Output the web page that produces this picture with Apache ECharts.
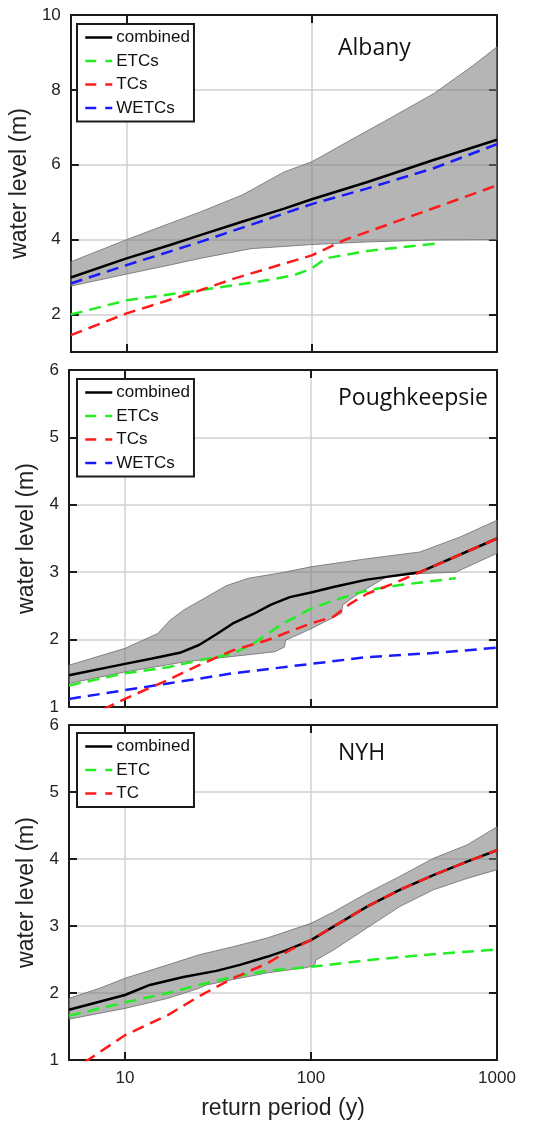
<!DOCTYPE html>
<html>
<head>
<meta charset="utf-8">
<script src="https://cdn.jsdelivr.net/npm/echarts@6/dist/echarts.min.js"></script>
<style>
html,body{margin:0;padding:0;background:#fff;}
#c{width:547px;height:1122px;}
</style>
</head>
<body>
<div id="c"></div>
<script>
// ---------- DATA ----------
const panelTitles = ['Albany', 'Poughkeepsie', 'NYH'];
const xTickValues = [10, 100, 1000];
const yTicksAlbany = [2, 4, 6, 8, 10];
const yTicksLower = [1, 2, 3, 4, 5, 6];

// Albany
const albCombX = [5, 10, 17, 25, 42, 71, 100, 200, 450, 1000];
const albCombY = [2.99, 3.50, 3.85, 4.12, 4.48, 4.83, 5.08, 5.54, 6.12, 6.67];
const albEtcX = [5, 10, 25, 58, 80, 100, 119, 200, 500];
const albEtcY = [2.0, 2.38, 2.65, 2.92, 3.05, 3.23, 3.50, 3.70, 3.91];
const albTcX = [5, 10, 25, 38, 100, 150, 300, 1000];
const albTcY = [1.45, 2.03, 2.65, 2.96, 3.58, 3.99, 4.52, 5.45];
const albWetcX = [5, 10, 25, 100, 200, 450, 1000];
const albWetcY = [2.83, 3.32, 3.94, 4.95, 5.37, 5.90, 6.55];
const albUpX = [5, 10, 17, 25, 42, 71, 100, 162, 245, 455, 747, 1000];
const albUpY = [3.41, 4.0, 4.43, 4.74, 5.19, 5.81, 6.08, 6.66, 7.15, 7.90, 8.66, 9.15];
const albLoX = [5, 10, 17, 25, 47, 100, 200, 450, 1000];
const albLoY = [2.76, 3.08, 3.32, 3.50, 3.76, 3.87, 3.94, 3.99, 4.0];

// Poughkeepsie
const pouCombX = [5, 10, 14, 20, 25, 31, 38, 49, 61, 77, 100, 132, 200, 385, 1000];
const pouCombY = [1.47, 1.64, 1.72, 1.81, 1.92, 2.08, 2.24, 2.38, 2.52, 2.63, 2.70, 2.78, 2.89, 3.0, 3.5];
const pouEtcX = [5, 10, 17, 25, 38, 49, 55, 71, 100, 132, 200, 300, 600];
const pouEtcY = [1.32, 1.50, 1.59, 1.69, 1.79, 1.94, 2.04, 2.24, 2.46, 2.58, 2.73, 2.81, 2.91];
const pouTcX = [5, 10, 14, 17, 25, 38, 58, 100, 132, 162, 200, 277, 385, 1000];
const pouTcY = [0.72, 1.12, 1.30, 1.40, 1.62, 1.84, 1.99, 2.24, 2.34, 2.53, 2.68, 2.83, 3.0, 3.5];
const pouWetcX = [5, 10, 17, 25, 38, 100, 200, 450, 1000];
const pouWetcY = [1.12, 1.25, 1.35, 1.42, 1.50, 1.64, 1.74, 1.80, 1.88];
const pouUpX = [5, 10, 15, 17.5, 21, 26.6, 35, 46, 69, 100, 200, 385, 630, 1000];
const pouUpY = [1.62, 1.87, 2.09, 2.29, 2.45, 2.61, 2.80, 2.91, 2.99, 3.08, 3.20, 3.30, 3.52, 3.77];
const pouLoX = [5, 10, 21, 38, 64, 72, 73, 100, 146, 148, 169, 200, 255, 385, 600, 1000];
const pouLoY = [1.35, 1.52, 1.67, 1.75, 1.82, 1.89, 1.99, 2.16, 2.39, 2.51, 2.63, 2.76, 2.93, 2.98, 3.0, 3.28];

// NYH
const nyhCombX = [5, 10, 13.6, 20.6, 31, 41.5, 58, 74, 100, 132, 200, 300, 455, 690, 1000];
const nyhCombY = [1.75, 1.97, 2.12, 2.24, 2.33, 2.42, 2.54, 2.64, 2.79, 2.99, 3.29, 3.54, 3.76, 3.96, 4.13];
const nyhEtcX = [5, 10, 17, 25, 38, 58, 100, 200, 455, 1000];
const nyhEtcY = [1.66, 1.86, 2.0, 2.12, 2.24, 2.33, 2.39, 2.49, 2.58, 2.65];
const nyhTcX = [5, 10, 17, 25, 38, 58, 77, 100, 132, 200, 300, 455, 690, 1000];
const nyhTcY = [0.81, 1.37, 1.67, 1.95, 2.22, 2.44, 2.64, 2.79, 2.99, 3.29, 3.54, 3.76, 3.96, 4.13];
const nyhUpX = [5, 7.3, 10, 17, 25, 38, 58, 100, 132, 200, 300, 455, 690, 1000];
const nyhUpY = [1.92, 2.07, 2.22, 2.42, 2.57, 2.69, 2.82, 3.04, 3.21, 3.49, 3.74, 4.01, 4.21, 4.48];
const nyhLoX = [5, 10, 17, 25, 27.5, 38, 58, 95, 105, 106, 132, 200, 300, 455, 690, 1000];
const nyhLoY = [1.61, 1.77, 1.92, 2.07, 2.12, 2.20, 2.30, 2.38, 2.42, 2.49, 2.64, 2.97, 3.29, 3.54, 3.71, 3.84];

// ---------- CHART ----------
const FONT = '"Liberation Sans", Arial, sans-serif';
const pairs = (xs, ys) => xs.map((x, i) => [x, ys[i]]);

const gridPos = [
  {left: 69, top: 15, width: 428, height: 337},
  {left: 69, top: 370, width: 428, height: 337},
  {left: 69, top: 725, width: 428, height: 335}
];
const yRange = [[1, 10], [1, 6], [1, 6]];
const yTicks = [yTicksAlbany, yTicksLower, yTicksLower];

const AX = '#1a1a1a';
const GRIDC = '#d0d0d0';

const xAxes = [], yAxes = [];
gridPos.forEach((g, i) => {
  xAxes.push({
    type: 'log', logBase: 10, min: 5, max: 1000, gridIndex: i, position: 'bottom',
    axisLine: {show: true, onZero: false, lineStyle: {color: AX, width: 2}},
    axisTick: {show: true, inside: true, length: 8, lineStyle: {color: AX, width: 2}, customValues: xTickValues},
    axisLabel: {show: i === 2, customValues: xTickValues, formatter: v => String(v),
      fontSize: 17, fontFamily: FONT, color: '#222', margin: 10},
    splitLine: {show: true, lineStyle: {color: GRIDC, width: 1.5}},
    name: i === 2 ? 'return period (y)' : '', nameLocation: 'middle', nameGap: 37,
    nameTextStyle: {fontSize: 23, fontFamily: FONT, color: '#222'}
  });
  xAxes.push({
    type: 'log', logBase: 10, min: 5, max: 1000, gridIndex: i, position: 'top',
    axisLine: {show: true, onZero: false, lineStyle: {color: AX, width: 2}},
    axisTick: {show: true, inside: true, length: 8, lineStyle: {color: AX, width: 2}, customValues: xTickValues},
    axisLabel: {show: false}, splitLine: {show: false}
  });
  yAxes.push({
    type: 'value', min: yRange[i][0], max: yRange[i][1], gridIndex: i, position: 'left',
    axisLine: {show: true, onZero: false, lineStyle: {color: AX, width: 2}},
    axisTick: {show: true, inside: true, length: 8, lineStyle: {color: AX, width: 2}, customValues: yTicks[i]},
    axisLabel: {show: true, customValues: yTicks[i], fontSize: 17, fontFamily: FONT, color: '#222', margin: 10},
    splitLine: {show: true, lineStyle: {color: GRIDC, width: 1.5}},
    name: 'water level (m)', nameLocation: 'middle', nameGap: 31, nameRotate: 90,
    nameTextStyle: {fontSize: 23, fontFamily: FONT, color: '#222'}
  });
  yAxes.push({
    type: 'value', min: yRange[i][0], max: yRange[i][1], gridIndex: i, position: 'right',
    axisLine: {show: true, onZero: false, lineStyle: {color: AX, width: 2}},
    axisTick: {show: true, inside: true, length: 8, lineStyle: {color: AX, width: 2}, customValues: yTicks[i]},
    axisLabel: {show: false}, splitLine: {show: false}
  });
});

function band(i, upX, upY, loX, loY) {
  const up = pairs(upX, upY), lo = pairs(loX, loY);
  return {
    type: 'custom', xAxisIndex: 2 * i, yAxisIndex: 2 * i, silent: true, z: 1,
    data: [[upX[0], upY[0]]],
    encode: {x: 0, y: 1},
    renderItem: function (params, api) {
      const pts = up.map(p => api.coord(p)).concat(lo.slice().reverse().map(p => api.coord(p)));
      return {type: 'polygon', shape: {points: pts},
        style: {fill: 'rgba(120,120,120,0.55)', stroke: 'rgba(110,110,110,0.8)', lineWidth: 1}};
    }
  };
}
function line(i, name, xs, ys, color, dashed) {
  return {
    type: 'line', name: name, xAxisIndex: 2 * i, yAxisIndex: 2 * i, symbol: 'none', z: 3,
    data: pairs(xs, ys), clip: true, animation: false,
    lineStyle: {color: color, width: 2.5, type: dashed ? [12, 7] : 'solid'},
    itemStyle: {color: color}
  };
}
const GREEN = '#22ee22', RED = '#ff1a1a', BLUE = '#1a1aff', BLACK = '#000';

const series = [
  band(0, albUpX, albUpY, albLoX, albLoY),
  line(0, 'combined', albCombX, albCombY, BLACK, false),
  line(0, 'ETCs', albEtcX, albEtcY, GREEN, true),
  line(0, 'WETCs', albWetcX, albWetcY, BLUE, true),
  line(0, 'TCs', albTcX, albTcY, RED, true),
  band(1, pouUpX, pouUpY, pouLoX, pouLoY),
  line(1, 'combined', pouCombX, pouCombY, BLACK, false),
  line(1, 'WETCs', pouWetcX, pouWetcY, BLUE, true),
  line(1, 'ETCs', pouEtcX, pouEtcY, GREEN, true),
  line(1, 'TCs', pouTcX, pouTcY, RED, true),
  band(2, nyhUpX, nyhUpY, nyhLoX, nyhLoY),
  line(2, 'combined', nyhCombX, nyhCombY, BLACK, false),
  line(2, 'ETC', nyhEtcX, nyhEtcY, GREEN, true),
  line(2, 'TC', nyhTcX, nyhTcY, RED, true)
];

function legend(top, names) {
  return {
    orient: 'vertical', left: 77, top: top, padding: [5, 4, 5, 7],
    borderColor: AX, borderWidth: 2, backgroundColor: '#fff',
    itemWidth: 27, itemHeight: 14, itemGap: 6.5,
    selectedMode: false,
    textStyle: {fontSize: 17, fontFamily: FONT, color: '#111', lineHeight: 17, padding: [0, 0, 0, -1]},
    data: names.map(n => ({
      name: n,
      itemStyle: {opacity: 0, color: 'transparent', borderWidth: 0},
      lineStyle: {width: 2.5, type: n === 'combined' ? 'solid' : [11, 9]}
    }))
  };
}

const option = {
  animation: false,
  backgroundColor: '#fff',
  grid: gridPos.map(g => Object.assign({containLabel: false}, g)),
  xAxis: xAxes,
  yAxis: yAxes,
  legend: [
    legend(24, ['combined', 'ETCs', 'TCs', 'WETCs']),
    legend(379, ['combined', 'ETCs', 'TCs', 'WETCs']),
    legend(733, ['combined', 'ETC', 'TC'])
  ],
  title: [
    {text: panelTitles[0], left: 338, top: 37},
    {text: panelTitles[1], left: 338, top: 387},
    {text: panelTitles[2], left: 338, top: 742}
  ].map(t => Object.assign(t, {padding: 0, textStyle: {fontSize: 23, fontWeight: 'normal', fontFamily: '"Open Sans", sans-serif', color: '#111'}})),
  series: series
};

const chart = echarts.init(document.getElementById('c'), null, {renderer: 'canvas'});
chart.setOption(option);
</script>
</body>
</html>
